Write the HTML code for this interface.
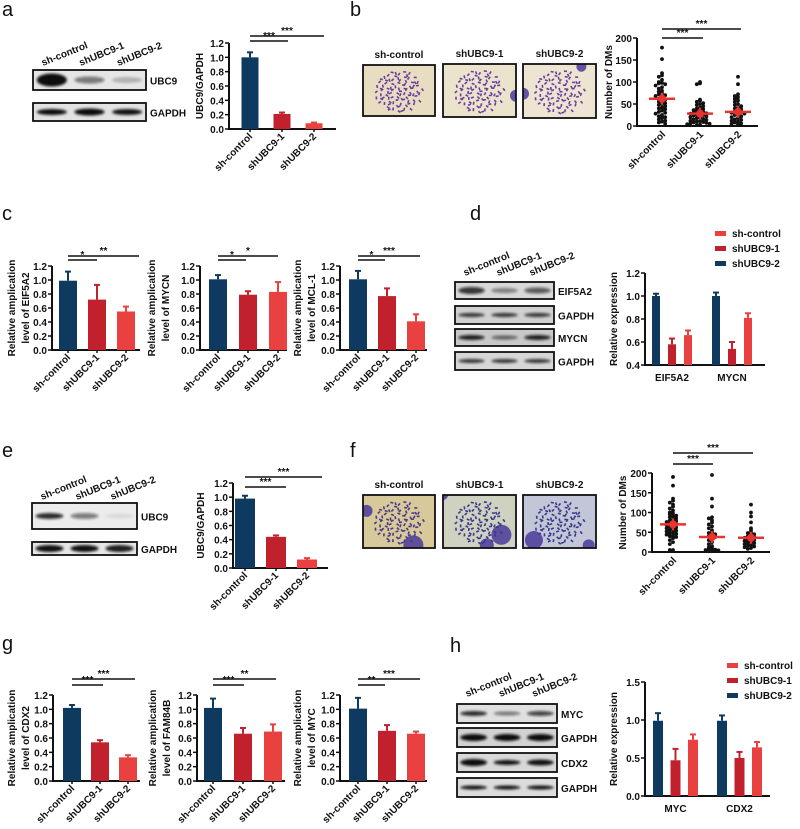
<!DOCTYPE html>
<html><head><meta charset="utf-8"><style>
html,body{margin:0;padding:0;background:#fff;}
svg{display:block;font-family:"Liberation Sans",sans-serif;}
.t{font-weight:bold;font-size:10px;fill:#111;}
.pl{font-size:20px;fill:#111;}
</style></head><body>
<svg id="fig" width="800" height="829" viewBox="0 0 800 829" xmlns="http://www.w3.org/2000/svg">
<defs><filter id="bl" x="-20%" y="-100%" width="140%" height="300%"><feGaussianBlur stdDeviation="1.4"/></filter></defs>
</svg>
<script>
// ---------- data ----------
const groups = ["sh-control","shUBC9-1","shUBC9-2"];
const aVals = [1.0,0.21,0.08], aErrs=[0.07,0.02,0.01];
const eVals = [0.98,0.44,0.12], eErrs=[0.04,0.02,0.02];
const c1Vals=[0.99,0.72,0.55], c1Errs=[0.13,0.21,0.07];
const c2Vals=[1.01,0.79,0.83], c2Errs=[0.06,0.05,0.14];
const c3Vals=[1.01,0.77,0.41], c3Errs=[0.12,0.11,0.10];
const g1Vals=[1.02,0.54,0.33], g1Errs=[0.04,0.03,0.03];
const g2Vals=[1.02,0.66,0.69], g2Errs=[0.13,0.08,0.10];
const g3Vals=[1.01,0.70,0.66], g3Errs=[0.15,0.08,0.03];
const dCats=["EIF5A2","MYCN"];
const dVals=[[1.0,0.58,0.66],[1.0,0.54,0.81]], dErrs=[[0.02,0.05,0.04],[0.03,0.06,0.04]];
const hCats=["MYC","CDX2"];
const hVals=[[0.99,0.47,0.74],[0.99,0.50,0.64]], hErrs=[[0.10,0.15,0.07],[0.07,0.08,0.07]];
const legendLabels=["sh-control","shUBC9-1","shUBC9-2"];
const bCtrl=[178,152,120,115,112,105,100,98,97,95,92,88,85,80,78,75,72,70,68,65,62,60,58,55,52,50,48,45,42,40,38,35,32,30,28,25,22,20,18,15,12,10,8,5];
const bS1=[100,97,95,60,58,55,52,50,48,45,42,40,38,36,35,33,32,30,29,28,27,26,25,24,22,20,19,18,16,15,14,12,11,10,9,8,7,6,5,4,3,2];
const bS2=[112,95,72,68,65,62,58,55,50,48,45,42,40,38,35,33,32,30,28,26,25,22,20,18,15,14,12,10,8,6,5,3];
const bMed=[62,28,32];
const fCtrl=[190,168,135,130,125,120,115,110,105,100,98,95,92,90,88,85,82,80,78,76,74,72,70,68,66,64,62,60,58,56,54,52,50,48,46,44,42,40,38,35,30,25,20,5,5];
const fS1=[195,135,115,88,85,80,75,70,65,60,55,50,48,45,42,40,38,35,30,25,20,15,12,10,8,6,5,4,3,2];
const fS2=[120,100,90,75,60,55,50,48,45,42,40,38,36,34,32,30,28,26,24,22,20,18,16,14,12,10,8];
const fMed=[70,38,36];

const NAVY="#0f3a5f", DRED="#c0212c", LRED="#e8413f";
const barColors=[NAVY,DRED,LRED];
const svg=document.getElementById('fig');
const NS="http://www.w3.org/2000/svg";
function el(tag,attrs,parent){const e=document.createElementNS(NS,tag);for(const k in attrs)e.setAttribute(k,attrs[k]);(parent||svg).appendChild(e);return e;}
function txt(s,attrs,parent){const e=el('text',attrs,parent);e.textContent=s;return e;}

function panelLabel(s,x,y){const t=txt(s,{x:x,y:y,class:'pl'});

}

function axisY(g,ax,y0,yTop,vmin,vmax,step,dec,fs){
  const sc=v=>y0-(v-vmin)/(vmax-vmin)*(y0-yTop);
  el('line',{x1:ax,y1:y0+1,x2:ax,y2:yTop,stroke:'#111','stroke-width':2},g);
  for(let v=vmin;v<=vmax+1e-9;v+=step){
    const y=sc(v);
    el('line',{x1:ax-4,y1:y,x2:ax,y2:y,stroke:'#111','stroke-width':1.5},g);
    txt(v.toFixed(dec),{x:ax-5,y:y+4,'text-anchor':'end',class:'t','font-size':fs||11},g);
  }
  return sc;
}
function yLabel(g,lines,x,yc,fs){
  lines.forEach((l,i)=>{const t=txt(l,{x:x+i*(fs+2),y:yc,'text-anchor':'middle',transform:`rotate(-90 ${x+i*(fs+2)} ${yc})`,class:'t','font-size':fs},g);
  
  });
}
function sig(g,x1,x2,y,s){
  el('line',{x1:x1,y1:y,x2:x2,y2:y,stroke:'#111','stroke-width':1.5},g);
  txt(s,{x:(x1+x2)/2,y:y-2,'text-anchor':'middle',class:'t','font-size':8},g);
}
function barChart(name,c){
  const g=el('g',{});
  
  
  const sc=axisY(g,c.ax,c.y0,c.yTop,0,1.2,0.2,1,c.fs||12);
  el('line',{x1:c.ax,y1:c.y0,x2:c.xEnd,y2:c.y0,stroke:'#111','stroke-width':2},g);
  const xc=i=>c.ax+c.first+i*c.step;
  c.vals.forEach((v,i)=>{
    const x=xc(i);
    const r=el('rect',{x:x-c.w/2,y:sc(v),width:c.w,height:c.y0-sc(v),fill:barColors[i]},g);
    
    
    const ye=sc(v+c.errs[i]);
    el('line',{x1:x,y1:sc(v),x2:x,y2:ye,stroke:barColors[i],'stroke-width':2},g);
    el('line',{x1:x-3,y1:ye,x2:x+3,y2:ye,stroke:barColors[i],'stroke-width':2},g);
    el('line',{x1:x,y1:c.y0,x2:x,y2:c.y0+3,stroke:'#111','stroke-width':1.5},g);
    const tl=txt(groups[i],{x:x+3,y:c.y0+8,'text-anchor':'end',transform:`rotate(-45 ${x+3} ${c.y0+8})`,class:'t','font-size':c.xfs||11},g);
    
    
  });
  yLabel(g,c.ylab,c.ylx,(c.y0+c.yTop)/2,c.yfs||12);
  c.sigs.forEach(s=>sig(g,xc(s[0]),xc(s[1])+s[2],s[3],s[4]));
}
function groupChart(name,c){
  const g=el('g',{});
  
  
  const sc=axisY(g,c.ax,c.y0,c.yTop,c.vmin,c.vmax,c.step,1,11);
  el('line',{x1:c.ax,y1:c.y0,x2:c.xEnd,y2:c.y0,stroke:'#111','stroke-width':2},g);
  c.cats.forEach((cat,gi)=>{
    c.vals[gi].forEach((v,i)=>{
      const x=c.ax+c.first+gi*c.gstep+i*c.bstep;
      const r=el('rect',{x:x-c.w/2,y:sc(v),width:c.w,height:c.y0-sc(v),fill:barColors[i]},g);
      
      
      const ye=sc(v+c.errs[gi][i]);
      el('line',{x1:x,y1:sc(v),x2:x,y2:ye,stroke:barColors[i],'stroke-width':2},g);
      el('line',{x1:x-3,y1:ye,x2:x+3,y2:ye,stroke:barColors[i],'stroke-width':2},g);
    });
    const t=txt(cat,{x:c.ax+c.first+gi*c.gstep+c.bstep,y:c.y0+16,'text-anchor':'middle',class:'t','font-size':11},g);
    
    
  });
  yLabel(g,["Relative expression"],c.ylx,(c.y0+c.yTop)/2,12);
  const lc=[LRED,DRED,NAVY];
  legendLabels.forEach((l,i)=>{
    const lg=el('g',{},g);
    
    
    el('rect',{x:c.lx,y:c.ly+i*15-2,width:11,height:5,fill:lc[i]},lg);
    txt(l,{x:c.lx+17,y:c.ly+i*15+4,class:'t','font-size':12.5},lg);
  });
}
function scatterChart(name,c){
  const g=el('g',{});
  
  
  const sc=axisY(g,c.ax,c.y0,c.yTop,0,200,50,0,12);
  el('line',{x1:c.ax,y1:c.y0,x2:c.xEnd,y2:c.y0,stroke:'#111','stroke-width':2},g);
  const xc=i=>c.ax+c.first+i*c.step;
  c.data.forEach((arr,gi)=>{
    const cnt={};
    arr.forEach((v,j)=>{
      const b=Math.round(v/8);cnt[b]=(cnt[b]||0)+1;const k=cnt[b];
      const off=(k%2?1:-1)*Math.floor(k/2)*3.2;
      const p=el('circle',{cx:xc(gi)+off,cy:sc(v),r:1.9,fill:'#111'},g);
      
      
    });
    const m=c.med[gi];
    el('line',{x1:xc(gi)-13,y1:sc(m),x2:xc(gi)+13,y2:sc(m),stroke:'#e8332f','stroke-width':2.5},g);
    el('circle',{cx:xc(gi),cy:sc(m),r:4,fill:'#e8332f'},g);
    el('line',{x1:xc(gi),y1:sc(m)-6,x2:xc(gi),y2:sc(m)+6,stroke:'#e8332f','stroke-width':2},g);
    const tl=txt(groups[gi],{x:xc(gi)+4,y:c.y0+9,'text-anchor':'end',transform:`rotate(-45 ${xc(gi)+4} ${c.y0+9})`,class:'t','font-size':12},g);
    
    
  });
  yLabel(g,["Number of DMs"],c.ylx,(c.y0+c.yTop)/2,12);
  c.sigs.forEach(s=>sig(g,xc(s[0]),xc(s[1])+s[2],s[3],'***'));
}
function blot(name,x,boxes,w,laneLabelY,labels,bands){
  const g=el('g',{});
  
  
  ["sh-control","shUBC9-1","shUBC9-2"].forEach((l,i)=>{
    const lx=x+10+i*(w/3), ly=laneLabelY;
    txt(l,{x:lx,y:ly,transform:`rotate(-22 ${lx} ${ly})`,class:'t','font-size':11.5},g);
  });
  boxes.forEach((b,k)=>{
    const bg=el('g',{},g);
    
    
    el('rect',{x:x,y:b[0],width:w,height:b[1]-b[0],fill:b[2],stroke:'#111','stroke-width':1.8},bg);
    for(let i=0;i<3;i++){
      const cx=x+w/6+i*w/3, cy=(b[0]+b[1])/2;
      el('ellipse',{cx:cx,cy:cy,rx:w/7.5,ry:bands[k][i][0]+0.5,fill:'#111','fill-opacity':Math.min(1,bands[k][i][1]*1.15),filter:'url(#bl)'},bg);
    }
    txt(labels[k],{x:x+w+4,y:(b[0]+b[1])/2+4.5,class:'t','font-size':12.5},bg);
  });
}
function micro(name,x,y,w,h,title,bg,dotC,blobs){
  const g=el('g',{});
  
  
  txt(title,{x:x+w/2,y:y-7,'text-anchor':'middle',class:'t','font-size':12},g);
  const cp='cp'+name;
  const d=el('clipPath',{id:cp},g);el('rect',{x:x,y:y,width:w,height:h},d);
  const gi=el('g',{'clip-path':`url(#${cp})`},g);
  el('rect',{x:x,y:y,width:w,height:h,fill:bg},gi);
  blobs.forEach(b=>el('circle',{cx:x+b[0]*w,cy:y+b[1]*h,r:b[2],fill:'#4a3a9a','fill-opacity':0.85},gi));
  for(let i=0;i<90;i++){
    const a=i*2.399, r=Math.sqrt(i/90)*h*0.42;
    el('rect',{x:x+w*0.5+Math.cos(a)*r*1.1,y:y+h*0.5+Math.sin(a)*r,width:3,height:1.6,fill:dotC,transform:`rotate(${i*37%180} ${x+w*0.5+Math.cos(a)*r*1.1} ${y+h*0.5+Math.sin(a)*r})`},gi);
  }
  el('rect',{x:x,y:y,width:w,height:h,fill:'none',stroke:'#111','stroke-width':1.8},g);
}

// ---------- panel a ----------
panelLabel('a',2,16);
blot('blot-a',33,[[70,90,'#e6e6e6'],[103,121,'#e2e2e2']],113,66,['UBC9','GAPDH'],
  [[[6,1],[3,0.45],[2.5,0.2]],[[2.5,0.9],[3,0.9],[2.5,0.85]]]);
barChart('bar-chart-a',{ax:229,y0:129,yTop:43,xEnd:336,first:21,step:32,w:17,vals:aVals,errs:aErrs,ylab:['UBC9/GAPDH'],ylx:203,yfs:12,
  sigs:[[0,1,6,41,'***'],[0,2,10,36,'***']]});
// ---------- panel b ----------
panelLabel('b',350,16);
micro('image-b-control',363,65,72,51,'sh-control','#e8ddc0','#6a3fa0',[]);
micro('image-b-1',443,64,73,53,'shUBC9-1','#ebe3cc','#6a3fa0',[[1,0.6,6]]);
micro('image-b-2',523,64,73,54,'shUBC9-2','#ede5d2','#6a3fa0',[[0.8,0.05,5],[0,0.55,6]]);
scatterChart('scatter-b',{ax:637,y0:126,yTop:38,xEnd:758,first:25,step:38,data:[bCtrl,bS1,bS2],med:bMed,ylx:612,
  sigs:[[0,1,3,38],[0,2,3,29]]});
// ---------- panel c ----------
panelLabel('c',2,220);
barChart('bar-chart-c1',{ax:52,y0:350,yTop:266,xEnd:140,first:16,step:29,w:18,vals:c1Vals,errs:c1Errs,ylab:['Relative amplication','level of EIF5A2'],ylx:15,yfs:12,
  sigs:[[0,1,0,260,'*'],[0,2,13,256,'**']]});
barChart('bar-chart-c2',{ax:200,y0:350,yTop:266,xEnd:287,first:18,step:30,w:18,vals:c2Vals,errs:c2Errs,ylab:['Relative amplication','level of MYCN'],ylx:155,yfs:12,
  sigs:[[0,1,-2,260,'*'],[0,2,0,256,'*']]});
barChart('bar-chart-c3',{ax:340,y0:350,yTop:266,xEnd:427,first:18,step:29,w:18,vals:c3Vals,errs:c3Errs,ylab:['Relative amplication','level of MCL-1'],ylx:301,yfs:12,
  sigs:[[0,1,-2,260,'*'],[0,2,4,256,'***']]});
// ---------- panel d ----------
panelLabel('d',470,220);
blot('blot-d',455,[[282,299,'#d8d8d8'],[306,324,'#d0d0d0'],[329,346,'#c8c8c8'],[352,370,'#d6d6d6']],99,276,['EIF5A2','GAPDH','MYCN','GAPDH'],
  [[[3,0.7],[2,0.4],[2.5,0.55]],[[1.5,0.7],[1.5,0.7],[1.5,0.7]],[[2,0.8],[1.5,0.5],[2,0.8]],[[1.5,0.7],[1.5,0.7],[1.5,0.7]]]);
groupChart('bar-chart-d',{ax:645,y0:365,yTop:273,vmin:0.4,vmax:1.2,step:0.2,xEnd:765,first:11,gstep:60,bstep:16,w:8,cats:dCats,vals:dVals,errs:dErrs,ylx:617,lx:715,ly:233});
// ---------- panel e ----------
panelLabel('e',2,457);
blot('blot-e',32,[[503,529,'#ececec'],[542,555,'#e6e6e6']],105,500,['UBC9','GAPDH'],
  [[[2.5,0.75],[2.5,0.45],[1.5,0.08]],[[3,0.85],[3,0.85],[3,0.8]]]);
barChart('bar-chart-e',{ax:233,y0:568,yTop:483,xEnd:328,first:12,step:31,w:20,vals:eVals,errs:eErrs,ylab:['UBC9/GAPDH'],ylx:204,yfs:12,
  sigs:[[0,1,10,487,'***'],[0,2,15,477,'***']]});
// ---------- panel f ----------
panelLabel('f',350,457);
micro('image-f-control',363,495,72,53,'sh-control','#d8c99a','#4a3a8a',[[0.7,0.95,10],[0.05,0.3,6]]);
micro('image-f-1',443,495,73,53,'shUBC9-1','#cfd2c0','#3a3a8a',[[0.8,0.75,10],[0.6,0.95,7],[0,0,5]]);
micro('image-f-2',523,495,73,53,'shUBC9-2','#c3c6d6','#3a3a8a',[[0.15,0.85,9],[0.9,0.95,6]]);
scatterChart('scatter-f',{ax:652,y0:552,yTop:473,xEnd:770,first:21,step:39,data:[fCtrl,fS1,fS2],med:fMed,ylx:626,
  sigs:[[0,1,1,464],[0,2,2,453]]});
// ---------- panel g ----------
panelLabel('g',2,650);
barChart('bar-chart-g1',{ax:53,y0:781,yTop:695,xEnd:140,first:19,step:28,w:18,vals:g1Vals,errs:g1Errs,ylab:['Relative amplication','level of CDX2'],ylx:15,yfs:12,
  sigs:[[0,1,3,685,'***'],[0,2,7,679,'***']]});
barChart('bar-chart-g2',{ax:197,y0:781,yTop:695,xEnd:285,first:16,step:30,w:18,vals:g2Vals,errs:g2Errs,ylab:['Relative amplication','level of FAM84B'],ylx:156,yfs:12,
  sigs:[[0,1,1,685,'***'],[0,2,3,679,'**']]});
barChart('bar-chart-g3',{ax:340,y0:781,yTop:695,xEnd:427,first:18,step:29,w:18,vals:g3Vals,errs:g3Errs,ylab:['Relative amplication','level of MYC'],ylx:301,yfs:12,
  sigs:[[0,1,-2,685,'**'],[0,2,4,679,'***']]});
// ---------- panel h ----------
panelLabel('h',450,652);
blot('blot-h',457,[[704,723,'#e0e0e0'],[728,747,'#d2d2d2'],[753,772,'#d8d8d8'],[778,797,'#dcdcdc']],100,697,['MYC','GAPDH','CDX2','GAPDH'],
  [[[2,0.75],[1.5,0.45],[2,0.65]],[[3,0.9],[3,0.9],[3,0.9]],[[3,0.9],[2,0.85],[2.5,0.85]],[[1.5,0.85],[1.5,0.85],[1.5,0.85]]]);
groupChart('bar-chart-h',{ax:645,y0:796,yTop:682,vmin:0,vmax:1.5,step:0.5,xEnd:770,first:13,gstep:64,bstep:17.5,w:10,cats:hCats,vals:hVals,errs:hErrs,ylx:617,lx:727,ly:665});
</script>
</body></html>
